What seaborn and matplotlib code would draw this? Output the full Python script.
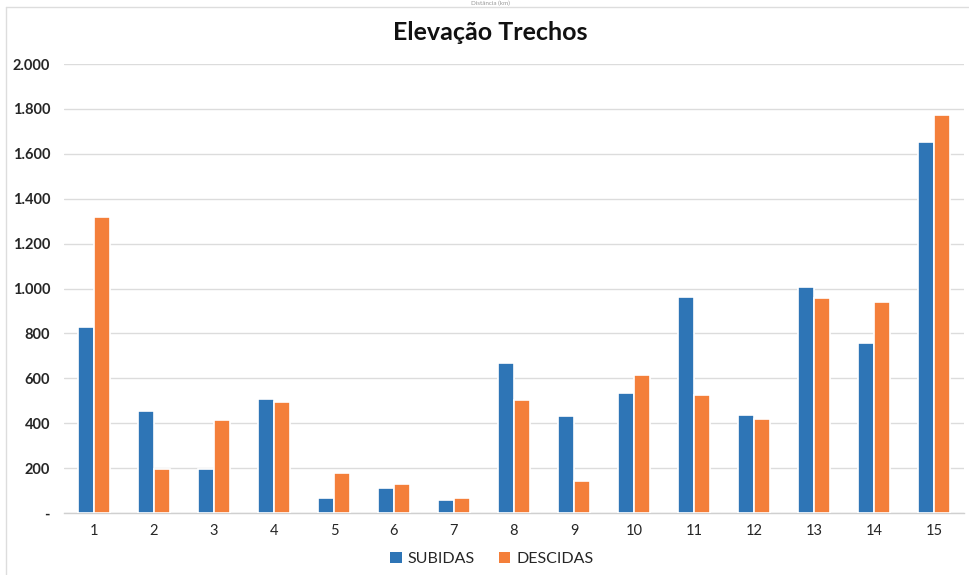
import matplotlib
matplotlib.use("Agg")
import matplotlib.pyplot as plt
from matplotlib.lines import Line2D
from matplotlib.patches import Patch
import seaborn as sns
import pandas as pd

trechos = [str(i) for i in range(1, 16)]
subidas = [830, 454, 196, 508, 67, 111, 58, 668, 432, 534, 962, 437, 1007, 757, 1653]
descidas = [1320, 196, 414, 494, 178, 129, 67, 503, 143, 615, 525, 419, 958, 940, 1773]
series = ["SUBIDAS", "DESCIDAS"]
cores = ["#2E75B6", "#F47F3A"]
y_ticks = [0, 200, 400, 600, 800, 1000, 1200, 1400, 1600, 1800, 2000]
y_labels = ["-", "200", "400", "600", "800", "1.000", "1.200", "1.400", "1.600", "1.800", "2.000"]

df = pd.DataFrame({
    "Trecho": trechos * 2,
    "Elevação": subidas + descidas,
    "Tipo": [series[0]] * len(trechos) + [series[1]] * len(trechos),
})

sns.set_theme(style="white")
plt.rcParams["font.family"] = ["Lato", "DejaVu Sans"]

fig = plt.figure(figsize=(9.69, 5.75), dpi=100)
ax = fig.add_axes([64 / 969, 1 - 513 / 575, 900 / 969, 449 / 575])

sns.barplot(data=df, x="Trecho", y="Elevação", hue="Tipo", order=trechos,
            hue_order=series, palette=cores, saturation=1, width=0.53, ax=ax,
            edgecolor="white", linewidth=1.2, legend=False, zorder=3)

ax.set_xlim(-0.5, 14.5)
ax.set_ylim(0, 2000)
ax.set_yticks(y_ticks)
ax.set_yticklabels(y_labels, fontweight="bold", fontsize=10.5, color="#262626")
ax.yaxis.grid(True, color="#DCDCDC", linewidth=1, zorder=0)
ax.tick_params(axis="y", length=0, pad=10)
ax.tick_params(axis="x", length=0, pad=8, labelsize=10.5, labelcolor="#262626")
ax.set_xlabel("")
ax.set_ylabel("")
for side in ["top", "right", "left"]:
    ax.spines[side].set_visible(False)
ax.spines["bottom"].set_color("#D0D0D0")
ax.spines["bottom"].set_linewidth(1)

fig.text(490 / 969, 1 - 33 / 575, "Elevação Trechos", ha="center", va="center",
         fontsize=18, fontweight="bold", color="#111111")

handles = [Patch(facecolor=c, edgecolor="none") for c in cores]
fig.legend(handles, series, loc="center", bbox_to_anchor=(492 / 969, 1 - 559 / 575),
           ncol=2, frameon=False, fontsize=11.5, handlelength=0.7, handleheight=0.7,
           handletextpad=0.4, columnspacing=1.5, labelcolor="#262626")

# frame edges of the chart area
fig.add_artist(Line2D([6 / 969, 1], [1 - 7 / 575, 1 - 7 / 575], color="#DDDDDD",
                      linewidth=1, transform=fig.transFigure))
fig.add_artist(Line2D([6 / 969, 6 / 969], [0, 1 - 7 / 575], color="#DDDDDD",
                      linewidth=1, transform=fig.transFigure))
fig.text(490 / 969, 1 - 0.5 / 575, "Distância (km)", ha="center", va="top",
         fontsize=4.5, color="#999999")

fig.savefig("out.png", dpi=100)
